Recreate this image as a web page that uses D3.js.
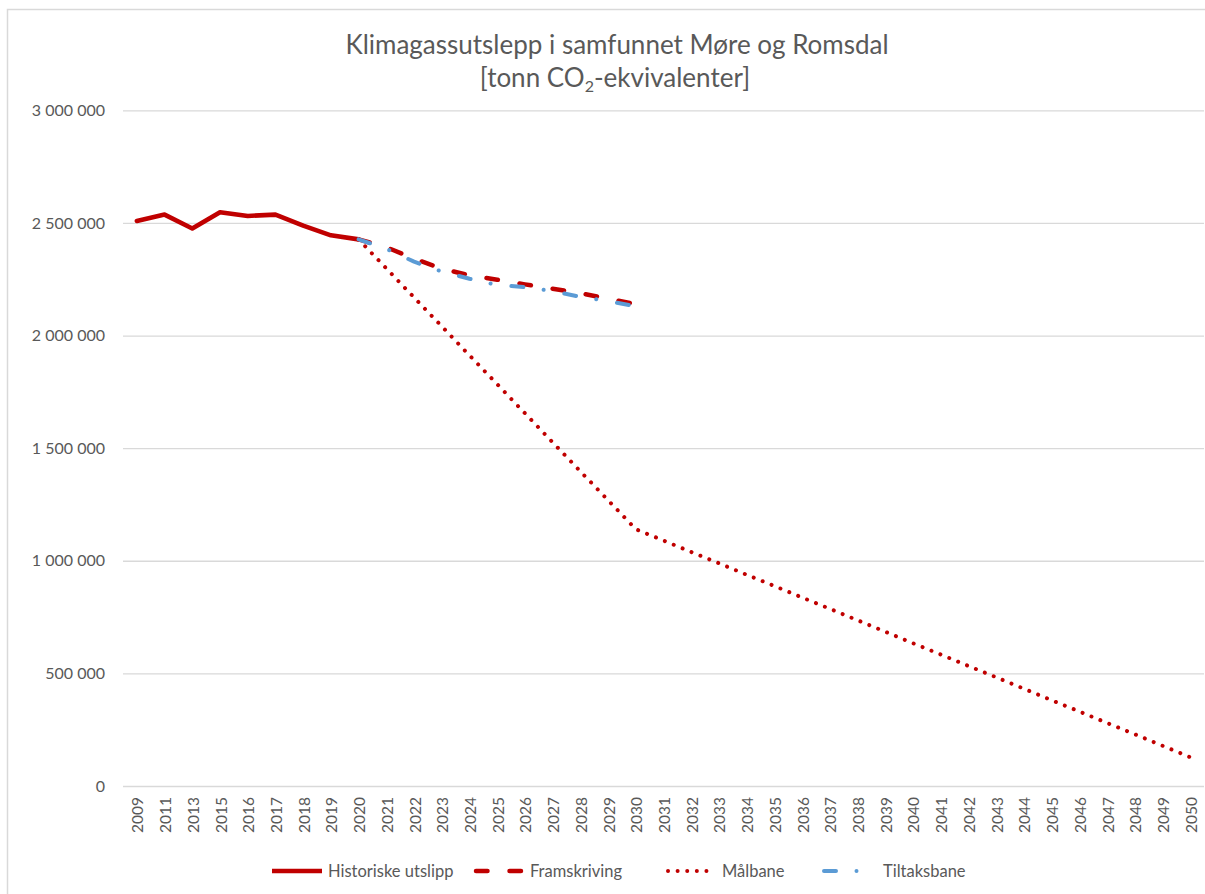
<!DOCTYPE html>
<html>
<head>
<meta charset="utf-8">
<script src="https://cdn.jsdelivr.net/npm/d3@7/dist/d3.min.js"></script>
<style>
  html, body { margin: 0; padding: 0; background: #fff; }
  svg { display: block; font-family: Lato, 'Open Sans', sans-serif; }
</style>
</head>
<body>
<svg id="chart" width="1205" height="894"></svg>
<script>
// category axis (years, not evenly spaced at the start)
const categories = ['2009', '2011', '2013', '2015', '2016', '2017', '2018', '2019', '2020',
  '2021', '2022', '2023', '2024', '2025', '2026', '2027', '2028', '2029', '2030',
  '2031', '2032', '2033', '2034', '2035', '2036', '2037', '2038', '2039', '2040',
  '2041', '2042', '2043', '2044', '2045', '2046', '2047', '2048', '2049', '2050'];

// tonn CO2-ekv. Historiske: 2009–2020
const historiske = [2509000, 2537000, 2475000, 2547000, 2531000, 2537000, 2488000, 2445000, 2427000];
// Framskriving: 2020–2030
const framskriving = [2427000, 2392000, 2341000, 2297000, 2267000, 2248000, 2227000, 2208000, 2188000, 2164000, 2139000];
// Målbane: 2020–2050
const maalbane = [2427000, 2298000, 2169000, 2041000, 1912000, 1784000, 1655000, 1526000, 1397000, 1269000, 1140000,
  1090000, 1039000, 989000, 938000, 888000, 837000, 787000, 736000, 685000, 634000,
  584000, 533000, 483000, 432000, 381000, 331000, 280000, 230000, 179000, 128000];
// Tiltaksbane: 2020–2030
const tiltaksbane = [2427000, 2385000, 2328000, 2284000, 2252000, 2224000, 2215000, 2197000, 2172000, 2153000, 2130000];

const yTicks = [0, 500000, 1000000, 1500000, 2000000, 2500000, 3000000];

const series = [
  { name: 'Historiske utslipp', values: historiske, start: '2009', color: '#C00000', width: 4.6, dash: null, cap: 'round' },
  { name: 'Framskriving', values: framskriving, start: '2020', color: '#C00000', width: 4.5, dash: '11.5,22', cap: 'round' },
  { name: 'Målbane', values: maalbane, start: '2020', color: '#C00000', width: 4, dash: '0.01,9.6', cap: 'round' },
  { name: 'Tiltaksbane', values: tiltaksbane, start: '2020', color: '#5B9BD5', width: 4, dash: '12,20.5,0.01,21', cap: 'round' },
];

const textColor = '#595959';
const gridColor = '#d9d9d9';

const svg = d3.select('#chart');
const plot = { left: 123, right: 1204, top: 110.3, bottom: 786 };

// outer chart border (cropped on the right and bottom)
svg.append('rect')
  .attr('x', 7.5).attr('y', 9.5)
  .attr('width', 1400).attr('height', 1000)
  .attr('fill', 'none')
  .attr('stroke', gridColor)
  .attr('stroke-width', 1.5);

const x = d3.scaleBand()
  .domain(categories)
  .range([plot.left, plot.right])
  .padding(0);
const cx = (c) => x(c) + x.bandwidth() / 2;

const y = d3.scaleLinear()
  .domain([0, 3000000])
  .range([plot.bottom, plot.top]);

const locale = d3.formatLocale({ decimal: ',', thousands: ' ', grouping: [3], currency: ['', ''] });
const fmt = locale.format(',d');

// title
const title = svg.append('text')
  .attr('text-anchor', 'middle')
  .attr('fill', textColor)
  .style('font-size', '26px');
title.append('tspan')
  .attr('x', 617).attr('y', 54)
  .text('Klimagassutslepp i samfunnet Møre og Romsdal');
const t2 = title.append('tspan')
  .attr('x', 615).attr('y', 87);
t2.append('tspan').text('[tonn CO');
t2.append('tspan').attr('dy', 5).style('font-size', '16px').text('2');
t2.append('tspan').attr('dy', -5).text('-ekvivalenter]');

// y axis: gridlines + labels
const yAxis = d3.axisLeft(y)
  .tickValues(yTicks)
  .tickSize(-(plot.right - plot.left))
  .tickPadding(18)
  .tickFormat(fmt);

const gy = svg.append('g')
  .attr('transform', `translate(${plot.left},0)`)
  .call(yAxis);
gy.select('.domain').remove();
gy.selectAll('.tick line').attr('stroke', gridColor).attr('stroke-width', 1.3);
gy.selectAll('.tick text')
  .attr('fill', textColor)
  .style('font-size', '16px')
  .style('font-family', 'Lato, sans-serif');

// x axis labels (rotated)
const xAxis = d3.axisBottom(x).tickSize(0).tickPadding(0);
const gx = svg.append('g')
  .attr('transform', `translate(0,${plot.bottom})`)
  .call(xAxis);
gx.select('.domain').remove();
gx.selectAll('.tick text')
  .attr('fill', textColor)
  .style('font-size', '15.5px')
  .style('font-family', 'Lato, sans-serif')
  .attr('text-anchor', 'end')
  .attr('y', 0)
  .attr('dy', '0.42em')
  .attr('transform', 'translate(0,11) rotate(-90)');

// lines
const line = d3.line()
  .x(d => cx(d.cat))
  .y(d => y(d.v));

series.forEach((s) => {
  const i0 = categories.indexOf(s.start);
  const pts = s.values.map((v, i) => ({ cat: categories[i0 + i], v }));
  svg.append('path')
    .datum(pts)
    .attr('d', line)
    .attr('fill', 'none')
    .attr('stroke', s.color)
    .attr('stroke-width', s.width)
    .attr('stroke-linecap', s.cap)
    .attr('stroke-linejoin', 'round')
    .attr('stroke-dasharray', s.dash);
});

// legend
const legendX = [272, 474, 666, 822];
const legendY = 871;
const legend = svg.append('g').attr('class', 'legend');
series.forEach((s, i) => {
  const g = legend.append('g').attr('transform', `translate(${legendX[i]},${legendY})`);
  g.append('line')
    .attr('x1', s.dash ? 2 : 0).attr('x2', 50)
    .attr('y1', 0).attr('y2', 0)
    .attr('stroke', s.color)
    .attr('stroke-width', s.width)
    .attr('stroke-linecap', s.dash ? s.cap : 'butt')
    .attr('stroke-dasharray', s.dash);
  g.append('text')
    .attr('x', i === 3 ? 61 : 56)
    .attr('dy', '0.36em')
    .attr('fill', textColor)
    .style('font-size', '16.5px')
    .text(s.name);
});
</script>
</body>
</html>
